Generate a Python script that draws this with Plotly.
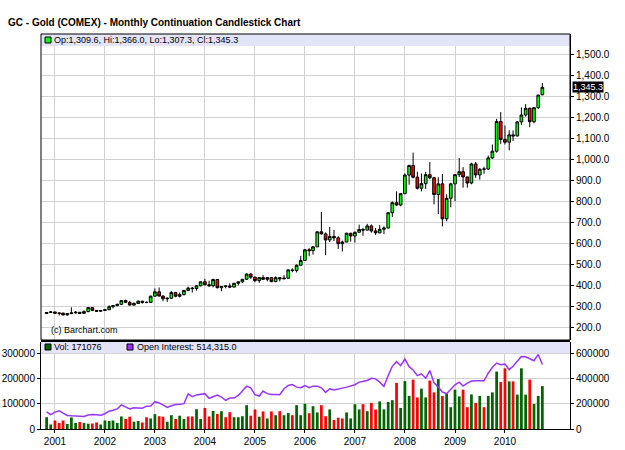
import plotly.graph_objects as go
import pandas as pd

# ---------------- data ----------------
months = pd.date_range("2000-11-01", "2010-10-01", freq="MS").strftime("%Y-%m-%d").tolist()

opens = [264.5, 269.5, 272.0, 265.5, 266.5, 258.0, 264.0, 267.5, 270.5, 265.5, 273.5, 293.0,
         279.5, 275.5, 279.0, 282.5, 297.0, 302.0, 308.5, 326.5, 318.0, 305.0, 312.5, 323.5,
         317.0, 317.5, 347.5, 368.0, 348.0, 335.0, 337.5, 364.5, 347.0, 355.0, 375.0, 386.0,
         384.0, 397.0, 416.0, 402.0, 397.0, 427.0, 388.0, 394.0, 396.0, 391.0, 409.0, 416.0,
         428.0, 453.0, 438.0, 422.0, 436.0, 428.0, 436.0, 417.0, 436.0, 430.0, 433.0, 473.0,
         470.0, 495.0, 518.0, 569.0, 565.0, 583.0, 655.0, 645.0, 616.0, 633.0, 626.0, 598.0,
         606.0, 648.0, 635.0, 653.0, 666.0, 663.0, 683.0, 659.0, 650.0, 667.0, 673.0, 746.0,
         794.0, 783.0, 837.0, 926.0, 972.0, 916.0, 863.0, 885.0, 928.0, 913.0, 833.0, 884.0,
         717.0, 815.0, 884.0, 928.0, 942.0, 917.0, 888.0, 979.0, 927.0, 954.0, 955.0, 1008.0,
         1040.0, 1182.0, 1096.0, 1083.0, 1118.0, 1113.0, 1180.0, 1213.0, 1245.0, 1181.0, 1248.0, 1309.6]
highs = [270.5, 276.0, 273.0, 268.5, 268.5, 266.5, 294.0, 276.5, 272.0, 279.5, 295.0, 293.5,
         281.0, 281.5, 285.5, 304.0, 304.5, 311.5, 328.0, 331.0, 325.0, 318.0, 327.0, 325.0,
         322.5, 350.0, 384.0, 389.0, 352.0, 341.0, 372.0, 368.5, 365.0, 377.0, 393.0, 392.0,
         400.0, 418.0, 430.0, 421.0, 431.0, 428.0, 396.0, 399.0, 409.0, 411.0, 417.0, 429.0,
         456.0, 457.0, 441.0, 438.0, 448.0, 438.0, 436.0, 442.0, 438.0, 448.0, 475.0, 481.0,
         499.0, 540.0, 572.0, 577.0, 587.0, 656.0, 750.0, 652.0, 678.0, 664.0, 634.0, 613.0,
         651.0, 650.0, 655.0, 689.0, 674.0, 693.0, 690.0, 673.0, 687.0, 681.0, 748.0, 800.0,
         848.0, 840.0, 934.0, 975.0, 1033.0, 942.0, 933.0, 941.0, 988.0, 918.0, 916.0, 931.0,
         834.0, 889.0, 930.0, 1007.0, 964.0, 918.0, 985.0, 989.0, 959.0, 966.0, 1019.0, 1072.0,
         1195.0, 1227.0, 1163.0, 1140.0, 1139.0, 1184.0, 1249.0, 1265.0, 1248.0, 1250.0, 1311.0, 1366.0]
lows = [263.0, 268.0, 262.5, 255.5, 255.5, 254.5, 263.5, 264.0, 263.5, 265.0, 271.0, 276.0,
        272.0, 271.5, 276.5, 282.0, 289.0, 299.5, 306.0, 316.0, 302.5, 301.5, 311.0, 311.5,
        314.0, 317.0, 345.0, 346.0, 323.0, 320.0, 336.0, 342.0, 341.0, 351.0, 371.0, 365.0,
        374.0, 394.0, 399.0, 393.0, 390.0, 384.0, 371.0, 385.0, 386.0, 389.0, 399.0, 411.0,
        426.0, 430.0, 414.0, 411.0, 424.0, 418.0, 414.0, 414.0, 418.0, 428.0, 431.0, 462.0,
        461.0, 492.0, 518.0, 538.0, 546.0, 583.0, 642.0, 543.0, 606.0, 611.0, 573.0, 561.0,
        606.0, 608.0, 603.0, 650.0, 636.0, 662.0, 651.0, 640.0, 648.0, 644.0, 672.0, 726.0,
        778.0, 777.0, 835.0, 880.0, 910.0, 857.0, 848.0, 860.0, 906.0, 786.0, 740.0, 681.0,
        705.0, 772.0, 801.0, 917.0, 866.0, 866.0, 882.0, 913.0, 904.0, 932.0, 950.0, 1003.0,
        1033.0, 1075.0, 1072.0, 1044.0, 1089.0, 1110.0, 1166.0, 1205.0, 1155.0, 1173.0, 1242.0, 1307.3]
closes = [269.5, 272.0, 265.5, 266.5, 258.0, 264.0, 267.5, 270.5, 265.5, 273.5, 293.0, 279.5,
          275.5, 279.0, 282.5, 297.0, 302.0, 308.5, 326.5, 318.0, 305.0, 312.5, 323.5, 317.0,
          317.5, 347.5, 368.0, 348.0, 335.0, 337.5, 364.5, 347.0, 355.0, 375.0, 386.0, 384.0,
          397.0, 416.0, 402.0, 397.0, 427.0, 388.0, 394.0, 396.0, 391.0, 409.0, 416.0, 428.0,
          453.0, 438.0, 422.0, 436.0, 428.0, 436.0, 417.0, 436.0, 430.0, 433.0, 473.0, 470.0,
          495.0, 518.0, 569.0, 565.0, 583.0, 655.0, 645.0, 616.0, 633.0, 626.0, 598.0, 606.0,
          648.0, 635.0, 653.0, 666.0, 663.0, 683.0, 659.0, 650.0, 667.0, 673.0, 746.0, 794.0,
          783.0, 837.0, 926.0, 972.0, 916.0, 863.0, 885.0, 928.0, 913.0, 833.0, 884.0, 717.0,
          815.0, 884.0, 928.0, 942.0, 917.0, 888.0, 979.0, 927.0, 954.0, 955.0, 1008.0, 1040.0,
          1182.0, 1096.0, 1083.0, 1118.0, 1113.0, 1180.0, 1213.0, 1245.0, 1181.0, 1248.0, 1308.0, 1345.3]

# monthly volume (thousands of contracts)
volume = [47, 18, 34, 24, 34, 20, 46, 24, 28, 24, 21, 22, 26, 18, 34, 32, 34, 24, 50, 40,
          49, 29, 32, 26, 47, 42, 59, 51, 49, 29, 55, 40, 53, 40, 50, 50, 79, 40, 84, 50,
          72, 60, 71, 47, 67, 47, 47, 51, 95, 53, 78, 49, 70, 42, 70, 55, 71, 55, 64, 55,
          95, 55, 101, 63, 91, 66, 95, 51, 78, 36, 45, 42, 66, 42, 99, 78, 99, 71, 104, 78,
          110, 78, 108, 115, 184, 84, 191, 132, 197, 126, 161, 126, 193, 146, 199, 132, 141, 87, 157, 130,
          157, 87, 138, 104, 132, 87, 132, 146, 229, 187, 242, 190, 190, 137, 242, 137, 197, 100, 132, 171.076]
# volume bar colour: g = green, r = red
volume_dir = list("ggrrr" "gggrg" "grrgg" "ggggr" "rggrr" "ggrrg" "grggr" "rggrr" "gr"
                  "grrgg" "ggrrg" "rgrgr" "ggrgg" "grggr" "rgrrr" "ggggr" "grrgg" "gg"
                  "rgggr" "rggrr" "grggg" "grrgr" "grggg" "rrgrg" "ggrgg" "g")
# open interest (thousands of contracts)
open_interest = [137, 115, 135, 145, 126, 108, 105, 105, 103, 100, 112, 116, 113, 110, 122, 142, 150, 160, 192, 178,
                 160, 170, 168, 166, 182, 184, 218, 208, 192, 172, 185, 195, 197, 202, 280, 258, 272, 279, 282, 245,
                 260, 270, 255, 229, 247, 247, 268, 303, 342, 329, 274, 263, 303, 282, 276, 276, 274, 321, 347, 355,
                 334, 329, 347, 329, 342, 342, 329, 292, 321, 311, 316, 326, 334, 342, 353, 374, 382, 387, 405, 400,
                 374, 340, 426, 500, 537, 505, 558, 497, 471, 426, 440, 405, 466, 368, 334, 295, 282, 321, 353, 374,
                 342, 366, 382, 384, 387, 384, 445, 492, 526, 513, 518, 474, 500, 545, 579, 576, 558, 545, 595, 514.315]

price_ticks = list(range(200, 1600, 100))
year_ticks = [f"{y}-01-01" for y in range(2001, 2011)]
year_labels = [str(y) for y in range(2001, 2011)]
vol_ticks = [0, 100000, 200000, 300000]
oi_ticks = [0, 200000, 400000, 600000]

title = "GC - Gold (COMEX) - Monthly Continuation Candlestick Chart"
price_legend = "Op:1,309.6, Hi:1,366.0, Lo:1,307.3, Cl:1,345.3"
vol_legend = "Vol: 171076"
oi_legend = "Open Interest: 514,315.0"
last_close = closes[-1]

# ---------------- geometry helpers (pixels -> paper) ----------------
W, H = 625, 450
L, R, T, B = 41, 55, 34, 21
PW, PH = W - L - R, H - T - B


def px(x):
    return (x - L) / PW


def py(y):
    return (H - B - y) / PH


FONT = "Liberation Sans, Arial, sans-serif"
GRID = "#d2d2d2"
BAND = "#e4e4f8"

price_dom = [py(340), 1]
vol_dom = [0, py(342)]

fig = go.Figure()

fig.add_trace(go.Candlestick(
    x=months, open=opens, high=highs, low=lows, close=closes,
    increasing=dict(line=dict(color="black", width=1), fillcolor="#00ff00"),
    decreasing=dict(line=dict(color="black", width=1), fillcolor="#ff0000"),
    whiskerwidth=0, xaxis="x", yaxis="y", showlegend=False, hoverinfo="skip"))

vol_colors = ["#006400" if d == "g" else "#ff0000" for d in volume_dir]
fig.add_trace(go.Bar(
    x=months, y=[v * 1000 for v in volume], marker=dict(color=vol_colors, line=dict(width=0)),
    width=20 * 86400000, xaxis="x2", yaxis="y2", showlegend=False, hoverinfo="skip"))

fig.add_trace(go.Scatter(
    x=months, y=[v * 1000 for v in open_interest], mode="lines",
    line=dict(color="#9933ff", width=1.5), xaxis="x2", yaxis="y3",
    showlegend=False, hoverinfo="skip"))

xrange = ["2000-09-21", "2011-04-21"]
axfont = dict(family=FONT, size=10, color="black")

fig.update_layout(
    width=W, height=H, margin=dict(l=L, r=R, t=T, b=B, autoexpand=False),
    paper_bgcolor="white", plot_bgcolor="white",
    boxgap=0.0,
    xaxis=dict(domain=[0, 1], anchor="y", type="date", range=xrange, automargin=False,
               tickvals=year_ticks, showticklabels=False, showgrid=True,
               gridcolor=GRID, gridwidth=1, zeroline=False, rangeslider=dict(visible=False),
               ticks=""),
    yaxis=dict(domain=price_dom, anchor="x", side="right", range=[138, 1600], automargin=False,
               tickvals=price_ticks, ticktext=[f"{v:,.1f}" for v in price_ticks],
               showgrid=True, gridcolor=GRID, zeroline=False, ticks="outside",
               ticklen=3, tickcolor="black", showline=True, linecolor="black",
               tickfont=axfont),
    xaxis2=dict(domain=[0, 1], anchor="y2", type="date", range=xrange, matches="x",
                automargin=False,
                tickvals=year_ticks, ticktext=year_labels, showgrid=True, gridcolor=GRID,
                ticks="outside", ticklen=3, tickcolor="black", showline=True,
                linecolor="black", zeroline=False, tickfont=axfont),
    yaxis2=dict(domain=vol_dom, anchor="x2", side="left", range=[0, 347000], automargin=False,
                tickvals=vol_ticks, ticktext=[str(v) for v in vol_ticks],
                showgrid=True, gridcolor=GRID, zeroline=False, ticks="outside",
                ticklen=3, tickcolor="black", showline=True, linecolor="black",
                tickfont=axfont),
    yaxis3=dict(overlaying="y2", anchor="x2", side="right", range=[0, 694000], automargin=False,
                tickvals=oi_ticks, ticktext=[str(v) for v in oi_ticks],
                showgrid=False, zeroline=False, ticks="outside", ticklen=3,
                tickcolor="black", showline=True, linecolor="black", tickfont=axfont),
)

shapes = []
# legend bands
shapes.append(dict(type="rect", xref="paper", yref="paper", x0=0, x1=1, y0=py(46), y1=1,
                   fillcolor=BAND, line=dict(width=0), layer="above"))
shapes.append(dict(type="rect", xref="paper", yref="paper", x0=0, x1=1, y0=py(353), y1=py(342),
                   fillcolor=BAND, line=dict(width=0), layer="above"))
# price frame
shapes.append(dict(type="rect", xref="paper", yref="paper", x0=0, x1=1, y0=price_dom[0], y1=1,
                   line=dict(color="black", width=1), fillcolor="rgba(0,0,0,0)", layer="above"))
# thick separator
shapes.append(dict(type="line", xref="paper", yref="paper", x0=0, x1=1, y0=py(341), y1=py(341),
                   line=dict(color="black", width=2), layer="above"))
# legend squares
shapes.append(dict(type="rect", xref="paper", yref="paper", x0=px(45), x1=px(51), y0=py(43), y1=py(37),
                   fillcolor="#00ff00", line=dict(color="black", width=1), layer="above"))
shapes.append(dict(type="rect", xref="paper", yref="paper", x0=px(45), x1=px(51), y0=py(350), y1=py(344),
                   fillcolor="#006400", line=dict(color="black", width=1), layer="above"))
shapes.append(dict(type="rect", xref="paper", yref="paper", x0=px(127), x1=px(133), y0=py(350), y1=py(344),
                   fillcolor="#9933ff", line=dict(color="black", width=1), layer="above"))
fig.update_layout(shapes=shapes)

ann = []
ann.append(dict(text=f"<b>{title}</b>", xref="paper", yref="paper", x=px(6), y=py(22),
                xanchor="left", yanchor="middle", showarrow=False,
                font=dict(family=FONT, size=10, color="black")))
small = dict(family=FONT, size=9, color="black")
ann.append(dict(text=price_legend, xref="paper", yref="paper", x=px(52), y=py(40),
                xanchor="left", yanchor="middle", showarrow=False, font=small))
ann.append(dict(text=vol_legend, xref="paper", yref="paper", x=px(52), y=py(347),
                xanchor="left", yanchor="middle", showarrow=False, font=small))
ann.append(dict(text=oi_legend, xref="paper", yref="paper", x=px(135), y=py(347),
                xanchor="left", yanchor="middle", showarrow=False, font=small))
ann.append(dict(text="(c) Barchart.com", xref="paper", yref="paper", x=px(49), y=py(330),
                xanchor="left", yanchor="middle", showarrow=False, font=small))
ann.append(dict(text=f"{last_close:,.1f}", xref="paper", yref="y", x=px(572), y=last_close,
                xanchor="left", yanchor="middle", showarrow=False, bgcolor="black",
                borderpad=0, font=dict(family=FONT, size=9, color="white")))
fig.update_layout(annotations=ann)

fig.write_html("out.html")
